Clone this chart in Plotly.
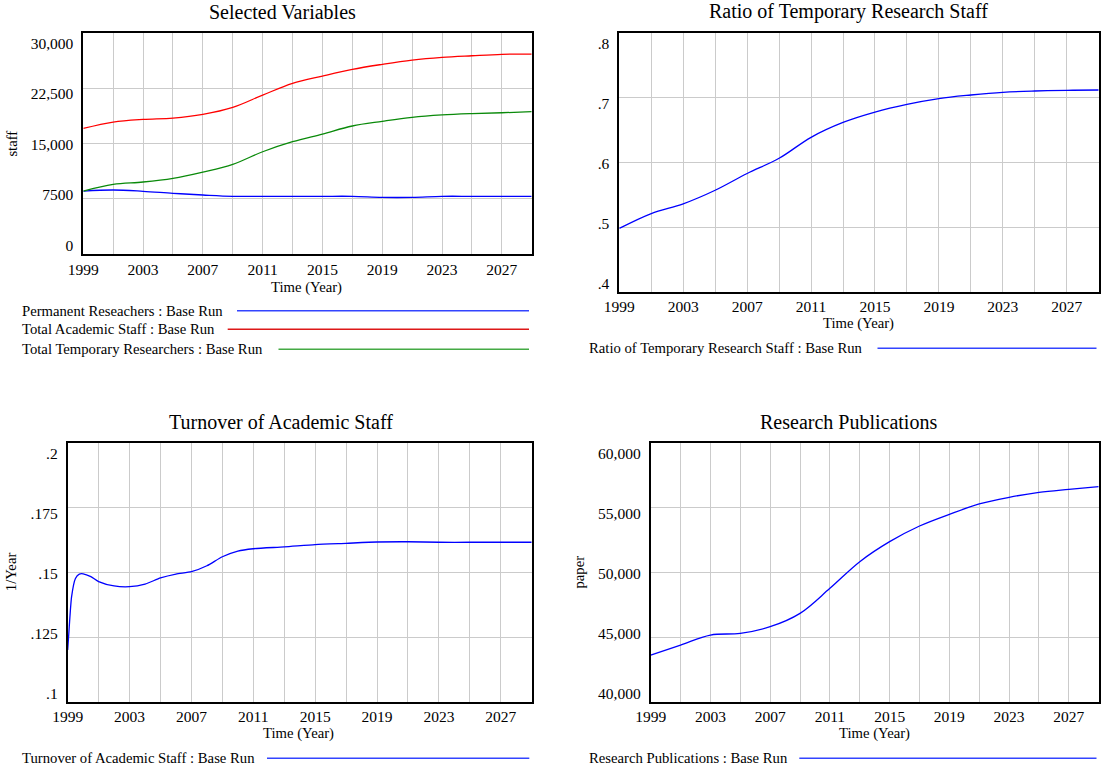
import plotly.graph_objects as go

# ---------------- data ----------------
years = [1999, 2001, 2003, 2005, 2007, 2009, 2011, 2013, 2015,
         2017, 2019, 2021, 2023, 2025, 2027, 2029]

permanent_researchers = [8560, 8700, 8520, 8250, 8020, 7840, 7840, 7840, 7840,
                         7840, 7700, 7700, 7840, 7840, 7840, 7840]
total_academic_staff = [17080, 17940, 18300, 18480, 18980, 19930, 21600, 23200, 24190,
                        25100, 25780, 26360, 26730, 26950, 27140, 27180]
total_temporary_researchers = [8560, 9470, 9785, 10290, 11140, 12190, 13900, 15260, 16310,
                               17400, 18030, 18580, 18900, 19080, 19200, 19340]

ratio_temporary = [0.498, 0.521, 0.536, 0.557, 0.583, 0.6065, 0.639, 0.662, 0.678,
                   0.690, 0.699, 0.7045, 0.7087, 0.7107, 0.7118, 0.7122]

turnover_years = [1999, 1999.1, 1999.25, 1999.5, 1999.75, 2000, 2000.5, 2001, 2002, 2003,
                  2004, 2005, 2006, 2007, 2008, 2009, 2010, 2011, 2013, 2015,
                  2017, 2019, 2021, 2023, 2025, 2027, 2029]
turnover = [0.120, 0.129, 0.1406, 0.1477, 0.1494, 0.1495, 0.1484, 0.1465, 0.1448, 0.1445,
            0.1455, 0.1479, 0.1494, 0.1503, 0.1526, 0.1561, 0.1583, 0.1592, 0.1599, 0.1608,
            0.1613, 0.1618, 0.1619, 0.1617, 0.1617, 0.1617, 0.1617]

research_publications = [43613, 44387, 45161, 45290, 45806, 46839, 48774, 50839, 52387,
                         53600, 54503, 55303, 55819, 56206, 56439, 56645]

x_tick_vals = [1999, 2003, 2007, 2011, 2015, 2019, 2023, 2027]
x_tick_text = ["1999", "2003", "2007", "2011", "2015", "2019", "2023", "2027"]
x_range = [1999, 2029]

staff_ticks = [0, 7500, 15000, 22500, 30000]
staff_tick_text = ["0", "7500", "15,000", "22,500", "30,000"]
ratio_ticks = [0.4, 0.5, 0.6, 0.7, 0.8]
ratio_tick_text = [".4", ".5", ".6", ".7", ".8"]
turnover_ticks = [0.1, 0.125, 0.15, 0.175, 0.2]
turnover_tick_text = [".1", ".125", ".15", ".175", ".2"]
pub_ticks = [40000, 45000, 50000, 55000, 60000]
pub_tick_text = ["40,000", "45,000", "50,000", "55,000", "60,000"]

# ---------------- styling ----------------
W, H = 1102, 771
FONT = "Liberation Serif, Times New Roman, serif"
GRID = "#cbcbcb"
BLUE, RED, GREEN = "#0000ff", "#ff0000", "#0a8a0a"
LEG_BLUE, LEG_RED, LEG_GREEN = "#3344ff", "#dd1818", "#44aa44"
TICK_SIZE = 15.5
LABEL_SIZE = 14.7


def px_x(v):
    return v / W


def px_y(v):
    return 1 - v / H


# frames (left, right, top, bottom) in pixels
panels = [
    dict(frame=(83.3, 531.7, 33.3, 254.0), yr=[0, 30000], ticks=staff_ticks, text=staff_tick_text),
    dict(frame=(619.3, 1098.7, 33.3, 291.7), yr=[0.4, 0.8], ticks=ratio_ticks, text=ratio_tick_text),
    dict(frame=(67.7, 531.7, 443.3, 701.7), yr=[0.1, 0.2], ticks=turnover_ticks, text=turnover_tick_text),
    dict(frame=(650.7, 1098.7, 443.3, 701.7), yr=[40000, 60000], ticks=pub_ticks, text=pub_tick_text),
]

fig = go.Figure()
layout = dict(
    template="none",
    width=W, height=H, autosize=False,
    margin=dict(l=0, r=0, t=0, b=0, pad=0, autoexpand=False),
    paper_bgcolor="white", plot_bgcolor="white",
    font=dict(family=FONT, color="black"),
    showlegend=False,
)

for i, p in enumerate(panels):
    n = i + 1
    sfx = "" if n == 1 else str(n)
    L, R, T, B = p["frame"]
    lo, hi = p["yr"]
    layout["xaxis" + sfx] = dict(
        domain=[px_x(L), px_x(R)], anchor="y" + sfx, range=x_range, automargin=False,
        tickvals=x_tick_vals, ticktext=x_tick_text, ticks="",
        showgrid=True, gridcolor=GRID, gridwidth=1,
        minor=dict(dtick=2, tick0=1999, showgrid=True, gridcolor=GRID, gridwidth=1, ticks=""),
        showline=True, linecolor="black", linewidth=2, mirror=True, zeroline=False,
        tickfont=dict(family=FONT, size=TICK_SIZE, color="black"), ticklabelstandoff=0,
        fixedrange=True,
    )
    layout["yaxis" + sfx] = dict(
        domain=[px_y(B), px_y(T)], anchor="x" + sfx, range=[lo, hi], automargin=False,
        tickvals=p["ticks"], showticklabels=False, ticks="",
        showgrid=True, gridcolor=GRID, gridwidth=1,
        showline=True, linecolor="black", linewidth=2, mirror=True, zeroline=False,
        fixedrange=True,
    )
    # label axis: Vensim insets end labels ~10 px inside the frame
    span = (B - 8.5) - (T + 10)
    per_px = (hi - lo) / span
    ov = str(n + 4)
    layout["yaxis" + ov] = dict(
        overlaying="y" + sfx, anchor="x" + sfx, side="left", automargin=False,
        range=[lo - 8.5 * per_px, hi + 10 * per_px],
        tickvals=p["ticks"], ticktext=p["text"], ticks="",
        showgrid=False, showline=False, zeroline=False,
        tickfont=dict(family=FONT, size=TICK_SIZE, color="black"), ticklabelstandoff=9,
        fixedrange=True,
    )
    fig.add_trace(go.Scatter(x=[], y=[], xaxis="x" + sfx, yaxis="y" + ov,
                             mode="lines", showlegend=False, hoverinfo="skip"))

line_common = dict(width=1.3, shape="spline", smoothing=1.0)
fig.add_trace(go.Scatter(x=years, y=permanent_researchers, mode="lines", xaxis="x", yaxis="y",
                         line=dict(color=BLUE, **line_common), name="Permanent Reseachers : Base Run"))
fig.add_trace(go.Scatter(x=years, y=total_academic_staff, mode="lines", xaxis="x", yaxis="y",
                         line=dict(color=RED, **line_common), name="Total Academic Staff : Base Run"))
fig.add_trace(go.Scatter(x=years, y=total_temporary_researchers, mode="lines", xaxis="x", yaxis="y",
                         line=dict(color=GREEN, **line_common), name="Total Temporary Researchers : Base Run"))
fig.add_trace(go.Scatter(x=years, y=ratio_temporary, mode="lines", xaxis="x2", yaxis="y2",
                         line=dict(color=BLUE, **line_common), name="Ratio of Temporary Research Staff : Base Run"))
fig.add_trace(go.Scatter(x=turnover_years, y=turnover, mode="lines", xaxis="x3", yaxis="y3",
                         line=dict(color=BLUE, width=1.3, shape="spline", smoothing=0.6),
                         name="Turnover of Academic Staff : Base Run"))
fig.add_trace(go.Scatter(x=years, y=research_publications, mode="lines", xaxis="x4", yaxis="y4",
                         line=dict(color=BLUE, **line_common), name="Research Publications : Base Run"))

annotations = []
shapes = []


def text(x, y, s, size, anchor="center", angle=0):
    annotations.append(dict(x=px_x(x), y=px_y(y), xref="paper", yref="paper", text=s,
                            showarrow=False, xanchor=anchor, yanchor="middle", textangle=angle,
                            font=dict(family=FONT, size=size, color="black")))


# titles
text(282, 12, "Selected Variables", 20)
text(848.5, 12, "Ratio of Temporary Research Staff", 20)
text(281.5, 421.7, "Turnover of Academic Staff", 20)
text(848, 421.7, "Research Publications", 20)

# axis titles
text(306.8, 287, "Time (Year)", LABEL_SIZE)
text(858.5, 323.3, "Time (Year)", LABEL_SIZE)
text(299, 733.3, "Time (Year)", LABEL_SIZE)
text(874, 733.3, "Time (Year)", LABEL_SIZE)
text(12.3, 143.3, "staff", LABEL_SIZE, angle=-90)
text(10.5, 571.7, "1/Year", LABEL_SIZE, angle=-90)
text(578, 572.5, "paper", LABEL_SIZE, angle=-90)

# legends (Vensim style: label followed by a line sample)
legend_rows = [
    (20.0, 310.7, 237.0, 529.0, "Permanent Reseachers : Base Run", LEG_BLUE),
    (20.0, 329.3, 227.7, 529.0, "Total Academic Staff : Base Run", LEG_RED),
    (20.0, 349.3, 278.5, 529.0, "Total Temporary Researchers : Base Run", LEG_GREEN),
    (587.0, 348.3, 877.5, 1096.5, "Ratio of Temporary Research Staff : Base Run", LEG_BLUE),
    (20.0, 758.3, 267.0, 529.3, "Turnover of Academic Staff : Base Run", LEG_BLUE),
    (587.0, 758.3, 799.3, 1096.5, "Research Publications : Base Run", LEG_BLUE),
]
for tx, ty, x0, x1, label, col in legend_rows:
    text(tx, ty, label, LABEL_SIZE, anchor="left")
    shapes.append(dict(type="line", xref="paper", yref="paper",
                       x0=px_x(x0), x1=px_x(x1), y0=px_y(ty), y1=px_y(ty),
                       line=dict(color=col, width=1.5)))

layout["annotations"] = annotations
layout["shapes"] = shapes
fig.update_layout(**layout)

fig.write_html("out.html", config={"displayModeBar": False},
               post_script="document.body.style.margin='0';document.body.style.overflow='hidden';")
